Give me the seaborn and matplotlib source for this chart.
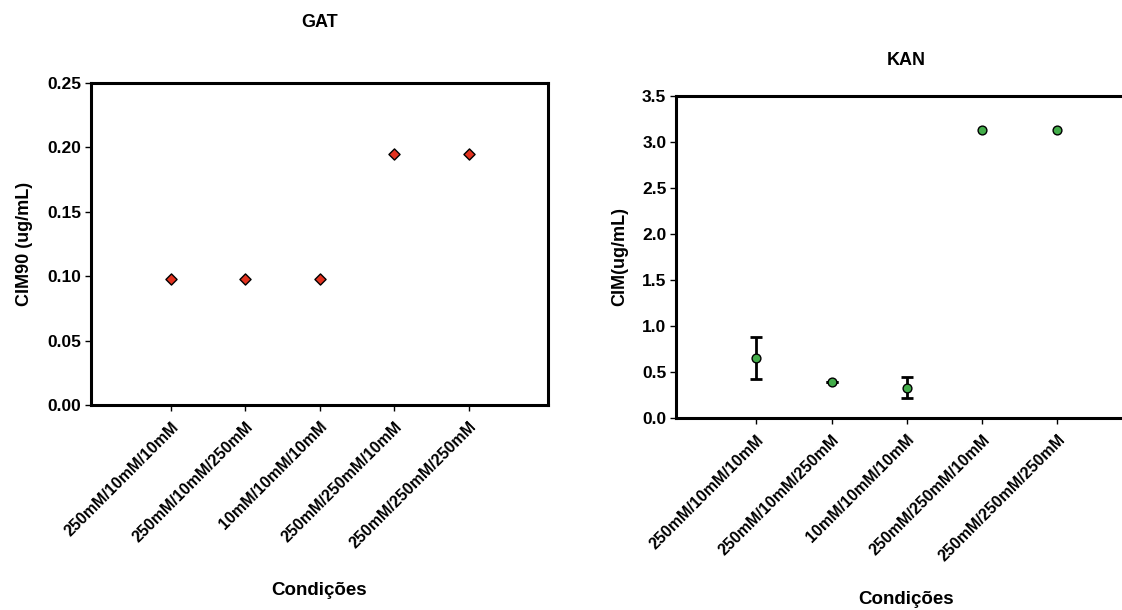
import numpy as np
import matplotlib
matplotlib.use("Agg")
import matplotlib.pyplot as plt
import seaborn as sns

# Conditions tested (same order in both panels)
conditions = ["250mM/10mM/10mM", "250mM/10mM/250mM", "10mM/10mM/10mM",
              "250mM/250mM/10mM", "250mM/250mM/250mM"]

# GAT: CIM90 values (ug/mL)
gat_values = [0.0977, 0.0977, 0.0977, 0.195, 0.195]

# KAN: CIM values (ug/mL) and their error (+/-); NaN where no error bar is drawn
kan_values = [0.65, 0.39, 0.33, 3.125, 3.125]
kan_errors = [0.225, 0.0, 0.115, np.nan, np.nan]

gat_ticks = [0.00, 0.05, 0.10, 0.15, 0.20, 0.25]
kan_ticks = [0.0, 0.5, 1.0, 1.5, 2.0, 2.5, 3.0, 3.5]

sns.set_theme(style="ticks")
plt.rcParams["font.family"] = ["Liberation Sans", "DejaVu Sans"]
plt.rcParams["font.weight"] = "bold"
for key in ["text.color", "axes.labelcolor", "xtick.color", "ytick.color"]:
    plt.rcParams[key] = "black"

fig = plt.figure(figsize=(11.22, 6.10), dpi=100)
ax1 = fig.add_axes([0.0811, 0.3361, 0.4073, 0.5279])
ax2 = fig.add_axes([0.6025, 0.3148, 0.4109, 0.5279])

red = "#e3321f"
green = "#43ad4a"


def style_axes(ax, yticks, fmt, ylabel, title, title_pad, xlabel_pad):
    ax.set_xlim(-1.07, 5.06)
    ax.set_ylim(yticks[0], yticks[-1])
    ax.set_yticks(yticks)
    ax.set_yticklabels([fmt.format(t) for t in yticks], fontsize=12.5, fontweight="bold")
    ax.set_xticks(range(len(conditions)))
    ax.set_xticklabels(conditions, rotation=45, ha="right", rotation_mode="anchor",
                       fontsize=11.5, fontweight="bold")
    for side in ["top", "bottom", "left", "right"]:
        ax.spines[side].set_visible(True)
        ax.spines[side].set_linewidth(2.2)
        ax.spines[side].set_color("black")
    ax.tick_params(axis="both", direction="out", length=4, width=1.0, color="black",
                   top=False, right=False, pad=3)
    ax.tick_params(axis="x", pad=6)
    ax.set_ylabel(ylabel, fontsize=13, fontweight="bold", labelpad=10)
    ax.set_xlabel("Condições", fontsize=13.5, fontweight="bold", labelpad=xlabel_pad)
    ax.set_title(title, fontsize=13, fontweight="bold", pad=title_pad)
    ax.grid(False)


# GAT panel
sns.scatterplot(x=conditions, y=gat_values, ax=ax1, marker="D", s=32,
                color=red, edgecolor="black", linewidth=1.0, zorder=3)
style_axes(ax1, gat_ticks, "{:.2f}", "CIM90 (ug/mL)", "GAT", 40, 22)

# KAN panel
x_pos = np.arange(len(conditions))
ax2.errorbar(x_pos, kan_values, yerr=kan_errors, fmt="none", ecolor="black",
             elinewidth=2, capsize=4, capthick=2, zorder=2)
sns.scatterplot(x=conditions, y=kan_values, ax=ax2, marker="o", s=40,
                color=green, edgecolor="black", linewidth=1.0, zorder=3)
style_axes(ax2, kan_ticks, "{:.1f}", "CIM(ug/mL)", "KAN", 22, 19)

fig.savefig("out.png", dpi=100)
